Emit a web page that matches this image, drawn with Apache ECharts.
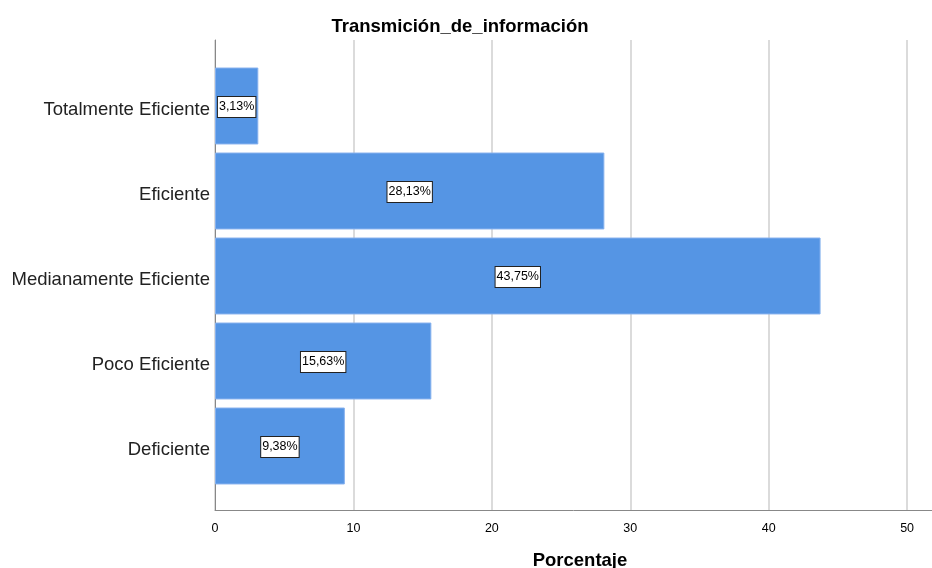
<!DOCTYPE html>
<html>
<head>
<meta charset="utf-8">
<script src="https://cdn.jsdelivr.net/npm/echarts@6/dist/echarts.min.js"></script>
<style>html,body{margin:0;padding:0;background:#fff;}#c{width:932px;height:568px;}</style>
</head>
<body>
<div id="c"></div>
<script>
const categories = ['Totalmente Eficiente', 'Eficiente', 'Medianamente Eficiente', 'Poco Eficiente', 'Deficiente'];
const porcentaje = [3.13, 28.13, 43.75, 15.63, 9.38];
const xTicks = [0, 10, 20, 30, 40, 50];

const FONT = '"Liberation Sans", Arial, sans-serif';
const XMAX = 51.8;
const chart = echarts.init(document.getElementById('c'));
chart.setOption({
  animation: false,
  backgroundColor: '#fff',
  title: {
    text: 'Transmición_de_información',
    left: 455, top: 12, textAlign: 'center',
    textStyle: { fontFamily: FONT, fontSize: 18.5, fontWeight: 'bold', color: '#000' }
  },
  grid: [
    { left: 215, right: 0, top: 40, bottom: 58, outerBoundsMode: 'none' },
    { left: 215, right: 0, top: 63.5, bottom: 79.5, outerBoundsMode: 'none' }
  ],
  xAxis: [
    {
      gridIndex: 0, type: 'value', min: 0, max: XMAX, interval: 10,
      name: 'Porcentaje', nameLocation: 'middle', nameGap: 41,
      nameTextStyle: { fontFamily: FONT, fontSize: 18.5, fontWeight: 'bold', color: '#000', padding: [0, 0, 0, 13] },
      axisLine: { show: true, lineStyle: { color: '#888', width: 1 } },
      axisTick: { show: false },
      axisLabel: {
        fontFamily: FONT, fontSize: 12.5, color: '#000', margin: 12, showMaxLabel: false,
        formatter: v => xTicks.indexOf(v) >= 0 ? String(v) : ''
      },
      splitLine: { show: true, showMaxLine: false, lineStyle: { color: '#cfcfcf', width: 1.5 } }
    },
    { gridIndex: 1, type: 'value', min: 0, max: XMAX, show: false }
  ],
  yAxis: [
    {
      gridIndex: 0, type: 'value', min: 0, max: 1,
      axisLine: { show: true, lineStyle: { color: '#888', width: 1 } },
      axisTick: { show: false }, axisLabel: { show: false }, splitLine: { show: false }
    },
    {
      gridIndex: 1, type: 'category', data: categories, inverse: true,
      axisLine: { show: false }, axisTick: { show: false },
      axisLabel: {
        margin: 5,
        formatter: v => '{a|' + v + '}',
        rich: { a: { fontFamily: FONT, fontSize: 18.5, color: '#222', padding: [8, 0, 0, 0] } }
      }
    }
  ],
  series: [{
    type: 'bar', xAxisIndex: 1, yAxisIndex: 1,
    data: porcentaje,
    barCategoryGap: '9.5%',
    itemStyle: { color: '#5595e4', borderColor: '#86b1ee', borderWidth: 1 },
    label: {
      show: true, position: 'inside', offset: [0, 1],
      formatter: p => p.value.toFixed(2).replace('.', ',') + '%',
      fontFamily: FONT, fontSize: 12.5, color: '#000',
      backgroundColor: '#fff', borderColor: '#222', borderWidth: 1,
      padding: [4, 1, 3, 1]
    }
  }]
});
</script>
</body>
</html>
